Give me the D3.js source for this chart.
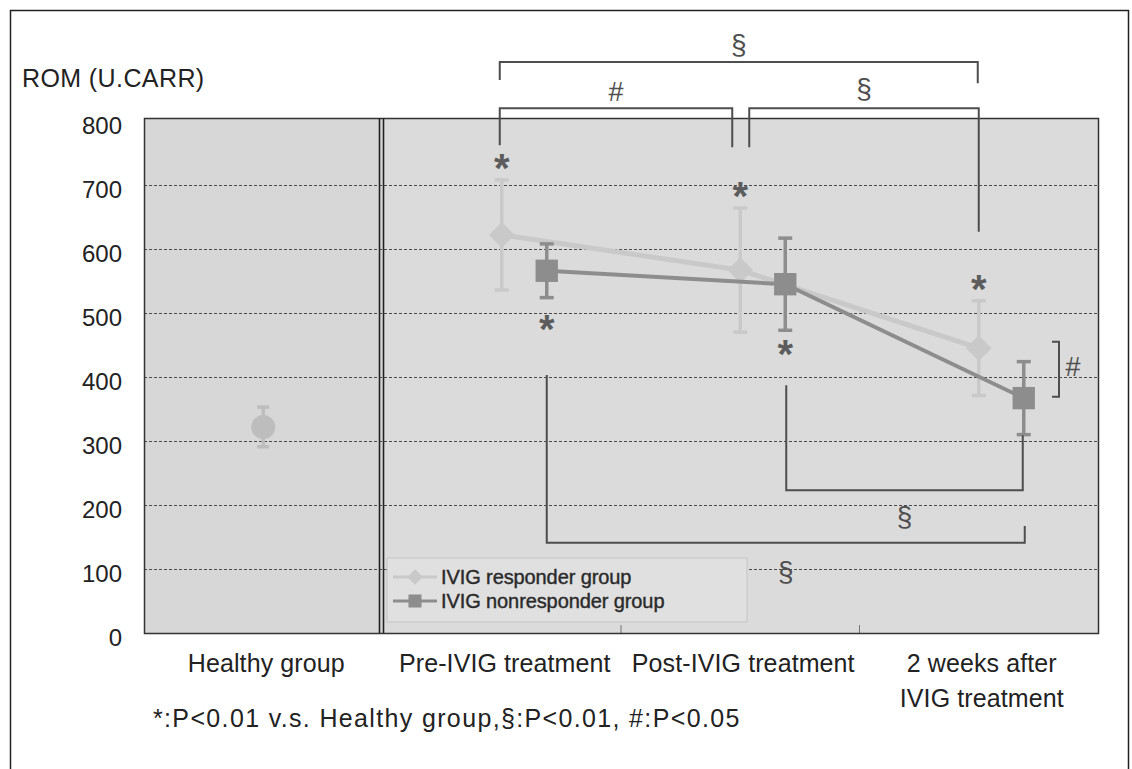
<!DOCTYPE html>
<html>
<head>
<meta charset="utf-8">
<script src="https://cdn.jsdelivr.net/npm/d3@7"></script>
<style>
  html, body { margin:0; padding:0; background:#fff; }
  svg { display:block; }
  text { font-family: "Liberation Sans", Arial, sans-serif; }
</style>
</head>
<body>
<svg id="chart" width="1132" height="769"></svg>
<script>
// ---------------- data ----------------
const categories = ["Healthy group", "Pre-IVIG treatment", "Post-IVIG treatment", "2 weeks after IVIG treatment"];
const yTicks = [0, 100, 200, 300, 400, 500, 600, 700, 800];

const healthyMean = 322;
const healthySD = 31;

const responderCats = ["Pre-IVIG treatment", "Post-IVIG treatment", "2 weeks after IVIG treatment"];
const responderMean = [622, 567, 445];
const responderSD   = [86, 97, 74];
const nonresponderMean = [566, 545, 367];
const nonresponderSD   = [42, 72, 57];

const seriesNames = ["IVIG responder group", "IVIG nonresponder group"];
const yTitle = "ROM (U.CARR)";
const footnote = "*:P<0.01 v.s. Healthy group,§:P<0.01, #:P<0.05";

// significance marks ("*" vs healthy): [series, category index in responderCats, side]
const starMarks = [
  ["r", 0, "above"], ["r", 1, "above"], ["r", 2, "above"],
  ["n", 0, "below"], ["n", 1, "below"]
];
// brackets: from / to points (series, index), horizontal level and leg ends in data units
const topBrackets = [
  { label: "§", from: ["r", 0], to: ["r", 2], level: 892, legA: 864, legB: 859, labelAt: 919 },
  { label: "#", from: ["r", 0], to: ["r", 1], level: 820, legA: 762, legB: 759, labelAt: 845 },
  { label: "§", from: ["r", 1], to: ["r", 2], level: 820, legA: 759, legB: 627, labelAt: 850 }
];
const bottomBrackets = [
  { label: "§", from: ["n", 1], to: ["n", 2], level: 223, legA: 387, legB: 309, labelAt: 181 },
  { label: "§", from: ["n", 0], to: ["n", 2], level: 141, legA: 403, legB: 167, labelAt: 95 }
];
const sideBracket = { label: "#", top: 455, bottom: 369, labelAt: 416 };

// ---------------- layout ----------------
const svg = d3.select("#chart");
const plot = { left: 144, right: 1098, top: 121, bottom: 633 };

const x = d3.scaleBand().domain(categories).range([plot.left, plot.right]).padding(0);
const cx = c => x(c) + x.bandwidth() / 2;
const y = d3.scaleLinear().domain([0, 800]).range([plot.bottom, plot.top]);

const respColor = "#c9c9c9";
const nonColor = "#8d8d8d";
const healthyColor = "#bdbdbd";
const annColor = "#4e4e4e";
const nonOffset = 45;
// horizontal nudges (px) for bracket ends so adjacent brackets do not touch
const topNudge = [[-2, -1], [-2, -8], [9, 0]];
const bottomNudge = [[1, -1], [0, 1]];

const px = (s, i) => s === "r" ? cx(responderCats[i]) : cx(responderCats[i]) + nonOffset;

// outer frame
svg.append("path")
  .attr("d", `M10.5,769 L10.5,10.5 L1128.5,10.5 L1128.5,769`)
  .attr("fill", "none").attr("stroke", "#222").attr("stroke-width", 1.5);

// plot background
svg.append("rect")
  .attr("x", plot.left).attr("y", plot.top - 3)
  .attr("width", plot.right - plot.left).attr("height", plot.bottom - plot.top + 3)
  .attr("fill", "#dbdbdb");
svg.append("rect")
  .attr("x", plot.left).attr("y", plot.top - 3)
  .attr("width", x.bandwidth()).attr("height", plot.bottom - plot.top + 3)
  .attr("fill", "#d7d7d7");

// gridlines
svg.append("g").selectAll("line")
  .data(yTicks.filter(d => d > 0 && d < 800))
  .join("line")
  .attr("x1", plot.left).attr("x2", plot.right)
  .attr("y1", d => y(d) + 0.5).attr("y2", d => y(d) + 0.5)
  .attr("stroke", "#4a4a4a").attr("stroke-width", 1)
  .attr("stroke-dasharray", "3,2");

// small bottom ticks at band boundaries
svg.append("g").selectAll("line")
  .data(categories.slice(2))
  .join("line")
  .attr("x1", d => x(d)).attr("x2", d => x(d))
  .attr("y1", plot.bottom).attr("y2", plot.bottom - 8)
  .attr("stroke", "#777").attr("stroke-width", 1);

// plot frame
svg.append("rect")
  .attr("x", plot.left + 0.5).attr("y", plot.top - 3 + 0.5)
  .attr("width", plot.right - plot.left).attr("height", plot.bottom - plot.top + 3)
  .attr("fill", "none").attr("stroke", "#333").attr("stroke-width", 1.5);

// double separator after Healthy group
const sepX = x(categories[1]);
[-3, 1].forEach(o => {
  svg.append("line")
    .attr("x1", sepX + o).attr("x2", sepX + o)
    .attr("y1", plot.top - 3).attr("y2", plot.bottom)
    .attr("stroke", "#222").attr("stroke-width", 1.6);
});

// y axis
const yAxis = d3.axisLeft(y).tickValues(yTicks).tickSize(0).tickPadding(0);
const gy = svg.append("g").attr("transform", `translate(122,0)`).call(yAxis);
gy.select(".domain").remove();
gy.selectAll("text")
  .attr("font-size", 24).attr("fill", "#222")
  .attr("font-family", "Liberation Sans, Arial, sans-serif")
  .attr("dy", "0.6em").attr("y", -2);

svg.append("text").attr("x", 22).attr("y", 87)
  .attr("font-size", 25).attr("letter-spacing", "0.4").attr("fill", "#222").text(yTitle);

// x axis labels
const xAxis = d3.axisBottom(x).tickSize(0).tickPadding(0);
const gx = svg.append("g").attr("transform", `translate(3,${plot.bottom + 39})`).call(xAxis);
gx.select(".domain").remove();
gx.selectAll("text")
  .attr("font-size", 25).attr("fill", "#222").attr("letter-spacing", "0.1")
  .attr("font-family", "Liberation Sans, Arial, sans-serif")
  .attr("dy", 0)
  .each(function(d) {
    const t = d3.select(this);
    if (d === categories[3]) {
      t.text(null);
      t.append("tspan").attr("x", 0).attr("dy", 0).text("2 weeks after");
      t.append("tspan").attr("x", 0).attr("dy", "1.38em").text("IVIG treatment");
    }
  });

// footnote
svg.append("text").attr("x", 153).attr("y", 727)
  .attr("font-size", 25).attr("letter-spacing", "1.35").attr("fill", "#222").text(footnote);

// ---------------- series ----------------
const line = d3.line().x(d => d[0]).y(d => d[1]);

// healthy point
const hx = cx(categories[0]);
svg.append("line")
  .attr("x1", hx).attr("x2", hx)
  .attr("y1", y(healthyMean + healthySD)).attr("y2", y(healthyMean - healthySD))
  .attr("stroke", healthyColor).attr("stroke-width", 3.5);
[healthyMean + healthySD, healthyMean - healthySD].forEach(v => {
  svg.append("line").attr("x1", hx - 6).attr("x2", hx + 6)
    .attr("y1", y(v)).attr("y2", y(v))
    .attr("stroke", healthyColor).attr("stroke-width", 3.5);
});
svg.append("circle").attr("cx", hx).attr("cy", y(healthyMean)).attr("r", 12)
  .attr("fill", healthyColor);

function drawSeries(means, sds, key, color, symbolType, symbolSize, lineW) {
  const pts = means.map((m, i) => [px(key, i), y(m)]);
  const g = svg.append("g");
  means.forEach((m, i) => {
    const xx = px(key, i);
    g.append("line").attr("x1", xx).attr("x2", xx)
      .attr("y1", y(m + sds[i])).attr("y2", y(m - sds[i]))
      .attr("stroke", color).attr("stroke-width", 3.5);
    [m + sds[i], m - sds[i]].forEach(v => {
      g.append("line").attr("x1", xx - 7).attr("x2", xx + 7)
        .attr("y1", y(v)).attr("y2", y(v))
        .attr("stroke", color).attr("stroke-width", 3.5);
    });
  });
  g.append("path").attr("d", line(pts))
    .attr("fill", "none").attr("stroke", color).attr("stroke-width", lineW);
  g.selectAll("path.sym").data(pts).join("path").attr("class", "sym")
    .attr("transform", d => `translate(${d[0]},${d[1]})`)
    .attr("d", d3.symbol().type(symbolType).size(symbolSize))
    .attr("fill", color);
}
drawSeries(responderMean, responderSD, "r", respColor, d3.symbolDiamond2, 420, 5);
drawSeries(nonresponderMean, nonresponderSD, "n", nonColor, d3.symbolSquare, 500, 4);

// ---------------- annotations ----------------
starMarks.forEach(([s, i, side]) => {
  const m = s === "r" ? responderMean[i] : nonresponderMean[i];
  const sd = s === "r" ? responderSD[i] : nonresponderSD[i];
  const xx = px(s, i);
  const yy = side === "above" ? y(m + sd) - 15 : y(m - sd) + (i === 0 ? 28 : 21);
  svg.append("text").attr("x", xx).attr("y", yy + 17)
    .attr("text-anchor", "middle")
    .attr("font-size", 40).attr("font-weight", "bold")
    .attr("font-family", "DejaVu Sans, sans-serif")
    .attr("fill", "#5c5c5c").text("*");
});

function bracket(b, nudge) {
  const x1 = px(b.from[0], b.from[1]) + nudge[0];
  const x2 = px(b.to[0], b.to[1]) + nudge[1];
  svg.append("path")
    .attr("d", `M${x1},${y(b.legA)} L${x1},${y(b.level)} L${x2},${y(b.level)} L${x2},${y(b.legB)}`)
    .attr("fill", "none").attr("stroke", annColor).attr("stroke-width", 2);
  svg.append("text")
    .attr("x", (x1 + x2) / 2).attr("y", y(b.labelAt) + 9)
    .attr("text-anchor", "middle").attr("font-size", b.label === "§" ? 28 : 27)
    .attr("fill", annColor)
    .text(b.label);
}
topBrackets.forEach((b, i) => bracket(b, topNudge[i]));
bottomBrackets.forEach((b, i) => bracket(b, bottomNudge[i]));

// side # bracket
const sbx = 1059;
svg.append("path")
  .attr("d", `M${sbx - 7},${y(sideBracket.top)} L${sbx},${y(sideBracket.top)} L${sbx},${y(sideBracket.bottom)} L${sbx - 7},${y(sideBracket.bottom)}`)
  .attr("fill", "none").attr("stroke", annColor).attr("stroke-width", 2);
svg.append("text").attr("x", sbx + 14).attr("y", y(sideBracket.labelAt) + 9)
  .attr("text-anchor", "middle").attr("font-size", 27).attr("fill", annColor)
  .text(sideBracket.label);

// ---------------- legend ----------------
const lg = svg.append("g").attr("transform", "translate(387,558)");
lg.append("rect").attr("width", 360).attr("height", 64)
  .attr("fill", "#e0e0e0").attr("stroke", "#c4c4c4").attr("stroke-width", 1);
const legendItems = [
  { name: seriesNames[0], color: respColor, sym: d3.symbolDiamond2, size: 150, lw: 3 },
  { name: seriesNames[1], color: nonColor, sym: d3.symbolSquare, size: 170, lw: 3 }
];
legendItems.forEach((it, i) => {
  const yy = 19 + i * 24;
  lg.append("line").attr("x1", 6).attr("x2", 50).attr("y1", yy).attr("y2", yy)
    .attr("stroke", it.color).attr("stroke-width", it.lw);
  lg.append("path").attr("transform", `translate(28,${yy})`)
    .attr("d", d3.symbol().type(it.sym).size(it.size)).attr("fill", it.color);
  lg.append("text").attr("x", 54).attr("y", yy + 7)
    .attr("font-size", 20).attr("letter-spacing", "-0.1")
    .attr("stroke", "#2a2a2a").attr("stroke-width", 0.4)
    .attr("fill", "#2a2a2a").text(it.name);
});
</script>
</body>
</html>
